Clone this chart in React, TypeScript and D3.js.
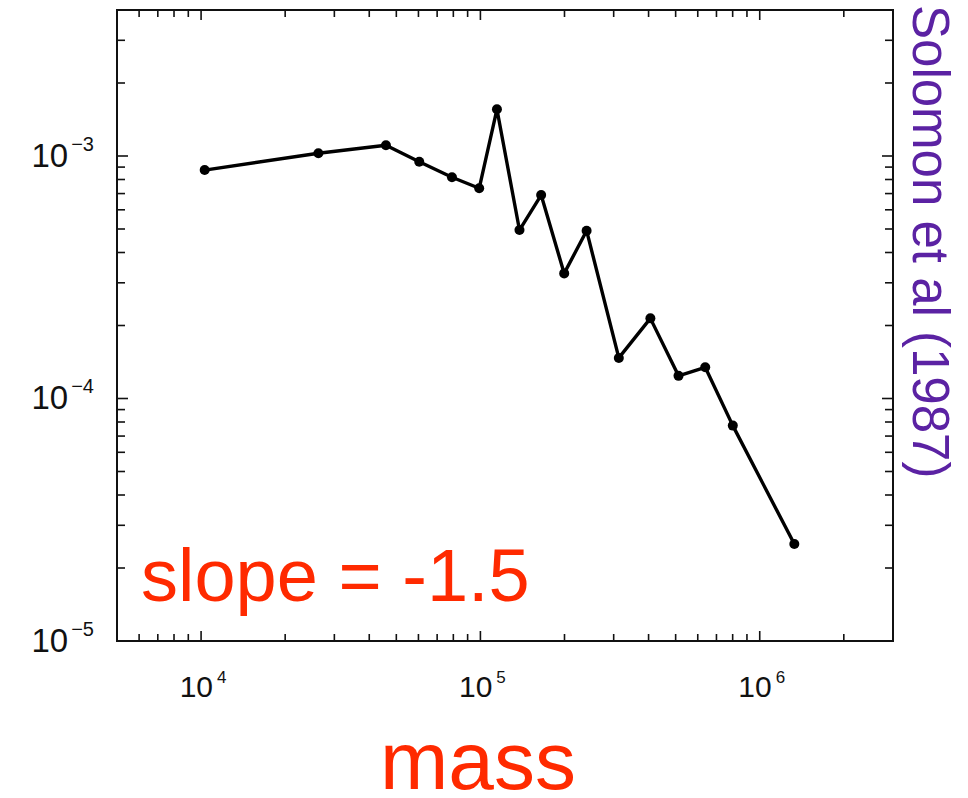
import React, { useRef, useEffect } from 'react';
import * as d3 from 'd3';

// cloud mass spectrum (Solomon et al 1987)
const massValues = [
  1.03e4, 2.63e4, 4.59e4, 6.04e4, 7.91e4, 9.9e4, 1.146e5, 1.38e5, 1.65e5,
  1.995e5, 2.4e5, 3.13e5, 4.06e5, 5.12e5, 6.38e5, 8.01e5, 1.33e6
];
const dnValues = [
  8.75e-4, 1.026e-3, 1.107e-3, 9.47e-4, 8.17e-4, 7.36e-4, 1.558e-3, 4.95e-4, 6.9e-4,
  3.28e-4, 4.92e-4, 1.47e-4, 2.14e-4, 1.24e-4, 1.345e-4, 7.73e-5, 2.51e-5
];

const xLabelExps = [4, 5, 6];
const yLabelExps = [-3, -4, -5];
const xDomain = [5e3, 3e6];
const yDomain = [1e-5, 4e-3];

const App = () => {
  const svgRef = useRef(null);

  useEffect(() => {
    const width = 968;
    const height = 798;
    const svg = d3.select(svgRef.current).attr('width', width).attr('height', height);
    svg.selectAll('*').remove();

    const left = 117, right = 893, top = 10, bottom = 641;
    const x = d3.scaleLog().domain(xDomain).range([left, right]);
    const y = d3.scaleLog().domain(yDomain).range([bottom, top]);
    const font = '"Liberation Sans", Helvetica, Arial, sans-serif';

    // minor/major ticks, inside the frame on all four sides
    const xTicks = x.ticks().filter(v => v > xDomain[0] * 1.001 && v < xDomain[1] * 0.999);
    const yTicks = y.ticks().filter(v => v > yDomain[0] * 1.001 && v < yDomain[1] * 0.999);
    const isMajor = v => Math.abs(Math.log10(v) - Math.round(Math.log10(v))) < 1e-6;

    const tickG = svg.append('g').attr('stroke', '#111').attr('stroke-width', 1.6);
    xTicks.forEach(v => {
      const len = isMajor(v) ? 10 : 7;
      tickG.append('line').attr('x1', x(v)).attr('x2', x(v)).attr('y1', bottom).attr('y2', bottom - len);
      tickG.append('line').attr('x1', x(v)).attr('x2', x(v)).attr('y1', top).attr('y2', top + len);
    });
    yTicks.concat([1e-5]).forEach(v => {
      const len = isMajor(v) ? 11 : 8;
      tickG.append('line').attr('x1', left).attr('x2', left + len).attr('y1', y(v)).attr('y2', y(v));
      tickG.append('line').attr('x1', right).attr('x2', right - len).attr('y1', y(v)).attr('y2', y(v));
    });

    // frame
    svg.append('rect')
      .attr('x', left).attr('y', top)
      .attr('width', right - left).attr('height', bottom - top)
      .attr('fill', 'none').attr('stroke', '#111').attr('stroke-width', 2);

    // tick labels
    xLabelExps.forEach(e => {
      const t = svg.append('text')
        .attr('x', x(Math.pow(10, e)) + 2).attr('y', 697)
        .attr('text-anchor', 'middle')
        .attr('font-family', font).attr('font-size', 30).attr('fill', '#111');
      t.append('tspan').text('10');
      t.append('tspan').attr('font-size', 17).attr('dx', 4).attr('dy', -14).text(String(e));
    });
    yLabelExps.forEach(e => {
      const t = svg.append('text')
        .attr('x', 94).attr('y', y(Math.pow(10, e)) + 11)
        .attr('text-anchor', 'end')
        .attr('font-family', font).attr('font-size', 33).attr('fill', '#111');
      t.append('tspan').text('10');
      t.append('tspan').attr('font-size', 20).attr('dx', 3).attr('dy', -16).text('\u2212' + String(-e));
    });

    // data line + dots
    const pts = massValues.map((m, i) => [m, dnValues[i]]);
    const line = d3.line().x(d => x(d[0])).y(d => y(d[1]));
    svg.append('path')
      .attr('d', line(pts))
      .attr('fill', 'none').attr('stroke', '#000')
      .attr('stroke-width', 3.4).attr('stroke-linejoin', 'round');
    svg.selectAll('circle.pt')
      .data(pts)
      .enter()
      .append('circle')
      .attr('class', 'pt')
      .attr('cx', d => x(d[0])).attr('cy', d => y(d[1]))
      .attr('r', 5).attr('fill', '#000');

    // annotations
    svg.append('text')
      .attr('x', 141).attr('y', 601)
      .attr('font-family', font).attr('font-size', 74).attr('fill', '#ff2a00')
      .text('slope = -1.5');
    svg.append('text')
      .attr('x', 380).attr('y', 789)
      .attr('font-family', font).attr('font-size', 82).attr('fill', '#ff2a00')
      .text('mass');
    svg.append('text')
      .attr('transform', 'translate(913, 5) rotate(90)')
      .attr('font-family', font).attr('font-size', 51).attr('fill', '#5b22a3')
      .text('Solomon et al (1987)');
  }, []);

  return (
    <svg ref={svgRef} style={{ position: 'absolute', left: 0, top: 0, background: '#fff' }}></svg>
  );
};

export default App;
